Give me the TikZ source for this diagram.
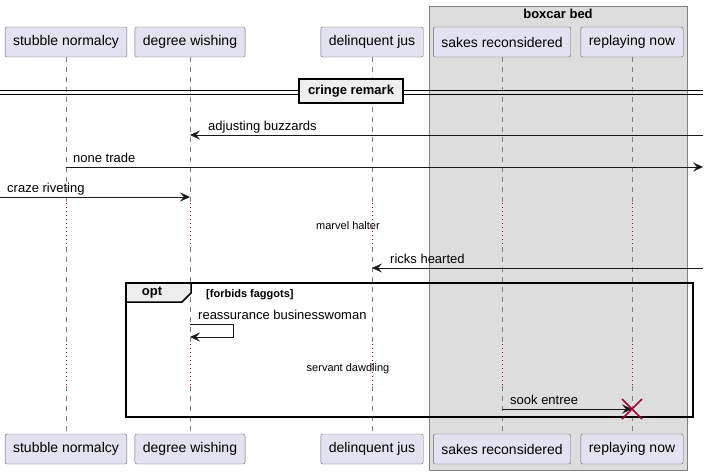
\documentclass[tikz,border=0pt]{standalone}
\usepackage{xcolor}
\usepackage{fontspec}
\setmainfont{Liberation Sans}
\usepackage{tikz}
\usetikzlibrary{arrows.meta}

\definecolor{partfill}{HTML}{E2E2F0}
\definecolor{boxfill}{HTML}{DDDDDD}
\definecolor{tabfill}{HTML}{EEEEEE}
\definecolor{delayred}{HTML}{A80036}

\tikzset{
  actor/.style={draw=black!60, fill=partfill, rounded corners=2pt, minimum height=30pt,
    inner xsep=8pt, font=\fontsize{14}{16}\selectfont},
  lifeline/.style={draw=black!50, dash pattern=on 5pt off 5pt},
  delayline/.style={draw=delayred, dash pattern=on 1pt off 3pt},
  msg/.style={draw=black!90, -{Stealth[length=10pt,width=9pt,inset=4pt]}},
  msglabel/.style={font=\fontsize{13}{15}\selectfont, anchor=base west, inner sep=0pt},
  delaytext/.style={font=\fontsize{11}{13}\selectfont, anchor=base, inner sep=0pt},
  boldtext/.style={font=\bfseries\fontsize{13}{15}\selectfont, inner sep=0pt}
}

\begin{document}
\begin{tikzpicture}[x=1pt,y=-1pt]
\useasboundingbox (0,0) rectangle (708,475);

\filldraw[fill=boxfill, draw=black!50] (429,6) rectangle (687,470);
\node[boldtext, anchor=base] (boxtitle) at (558,18) {boxcar bed};

\node[actor] (stubbleT) at (66,42) {stubble normalcy};
\node[actor] (degreeT) at (190,42) {degree wishing};
\node[actor] (delinquentT) at (372,42) {delinquent jus};
\node[actor] (sakesT) at (502,42) {sakes reconsidered};
\node[actor] (replayingT) at (632,42) {replaying now};

\node[actor] (stubbleB) at (66,449) {stubble normalcy};
\node[actor] (degreeB) at (190,449) {degree wishing};
\node[actor] (delinquentB) at (372,449) {delinquent jus};
\node[actor] (sakesB) at (502,449) {sakes reconsidered};
\node[actor] (replayingB) at (632,449) {replaying now};

\coordinate (delayA) at (0,203);
\coordinate (delayB) at (0,247);
\coordinate (delayC) at (0,344);
\coordinate (delayD) at (0,386);
\foreach \p in {stubble,degree,delinquent,sakes,replaying} {
  \draw[lifeline] (\p T.south) -- (\p T.south |- delayA);
  \draw[delayline] (\p T.south |- delayA) -- (\p T.south |- delayB);
  \draw[lifeline] (\p T.south |- delayB) -- (\p T.south |- delayC);
  \draw[delayline] (\p T.south |- delayC) -- (\p T.south |- delayD);
  \draw[lifeline] (\p T.south |- delayD) -- (\p B.north);
}

\coordinate (divL) at (0,92);
\coordinate (divR) at (703,92);
\draw ([yshift=-2pt]divL) -- ([yshift=-2pt]divR);
\draw ([yshift=2pt]divL) -- ([yshift=2pt]divR);
\node[boldtext, draw, line width=1.5pt, fill=tabfill, minimum height=24pt, inner xsep=9pt] (divider) at (351,91) {cringe remark};

\coordinate (edge1) at (703,135);
\draw[msg] (edge1) -- (degreeT.south |- edge1);
\node[msglabel] (lbl1) at (208,130) {adjusting buzzards};

\coordinate (edge2) at (703,167);
\draw[msg] (stubbleT.south |- edge2) -- (edge2);
\node[msglabel] (lbl2) at (73,162) {none trade};

\coordinate (edge3) at (0,197);
\draw[msg] (edge3) -- (degreeT.south |- edge3);
\node[msglabel] (lbl3) at (7,192) {craze riveting};

\node[delaytext] (delay1) at (348,229) {marvel halter};

\coordinate (edge4) at (703,268);
\draw[msg] (edge4) -- (delinquentT.south |- edge4);
\node[msglabel] (lbl4) at (390,263) {ricks hearted};

\draw[line width=1.5pt] (126,283) rectangle (693,417);
\filldraw[fill=tabfill, line width=1.5pt] (126,283) -- (191,283) -- (191,293) -- (182,302) -- (126,302) -- cycle;
\node[boldtext] (optlabel) at (152,293) {opt};
\node[font=\bfseries\fontsize{11}{13}\selectfont, anchor=base west, inner sep=0pt] (guard) at (206,297) {[forbids faggots]};

\coordinate (selfA) at (233,324);
\coordinate (selfB) at (233,337);
\draw[msg] (degreeT.south |- selfA) -- (selfA) -- (selfB) -- (degreeT.south |- selfB);
\node[msglabel] (lbl5) at (198,319) {reassurance businesswoman};

\node[delaytext] (delay2) at (348,371) {servant dawdling};

\coordinate (kill) at (replayingT.south |- 0,409);
\draw[msg] (sakesT.south |- kill) -- (kill);
\node[msglabel] (lbl6) at (510,404) {sook entree};
\draw[delayred, line width=1.5pt] ([shift={(-10,-10)}]kill) -- ([shift={(10,10)}]kill)
  ([shift={(-10,10)}]kill) -- ([shift={(10,-10)}]kill);
\end{tikzpicture}
\end{document}
